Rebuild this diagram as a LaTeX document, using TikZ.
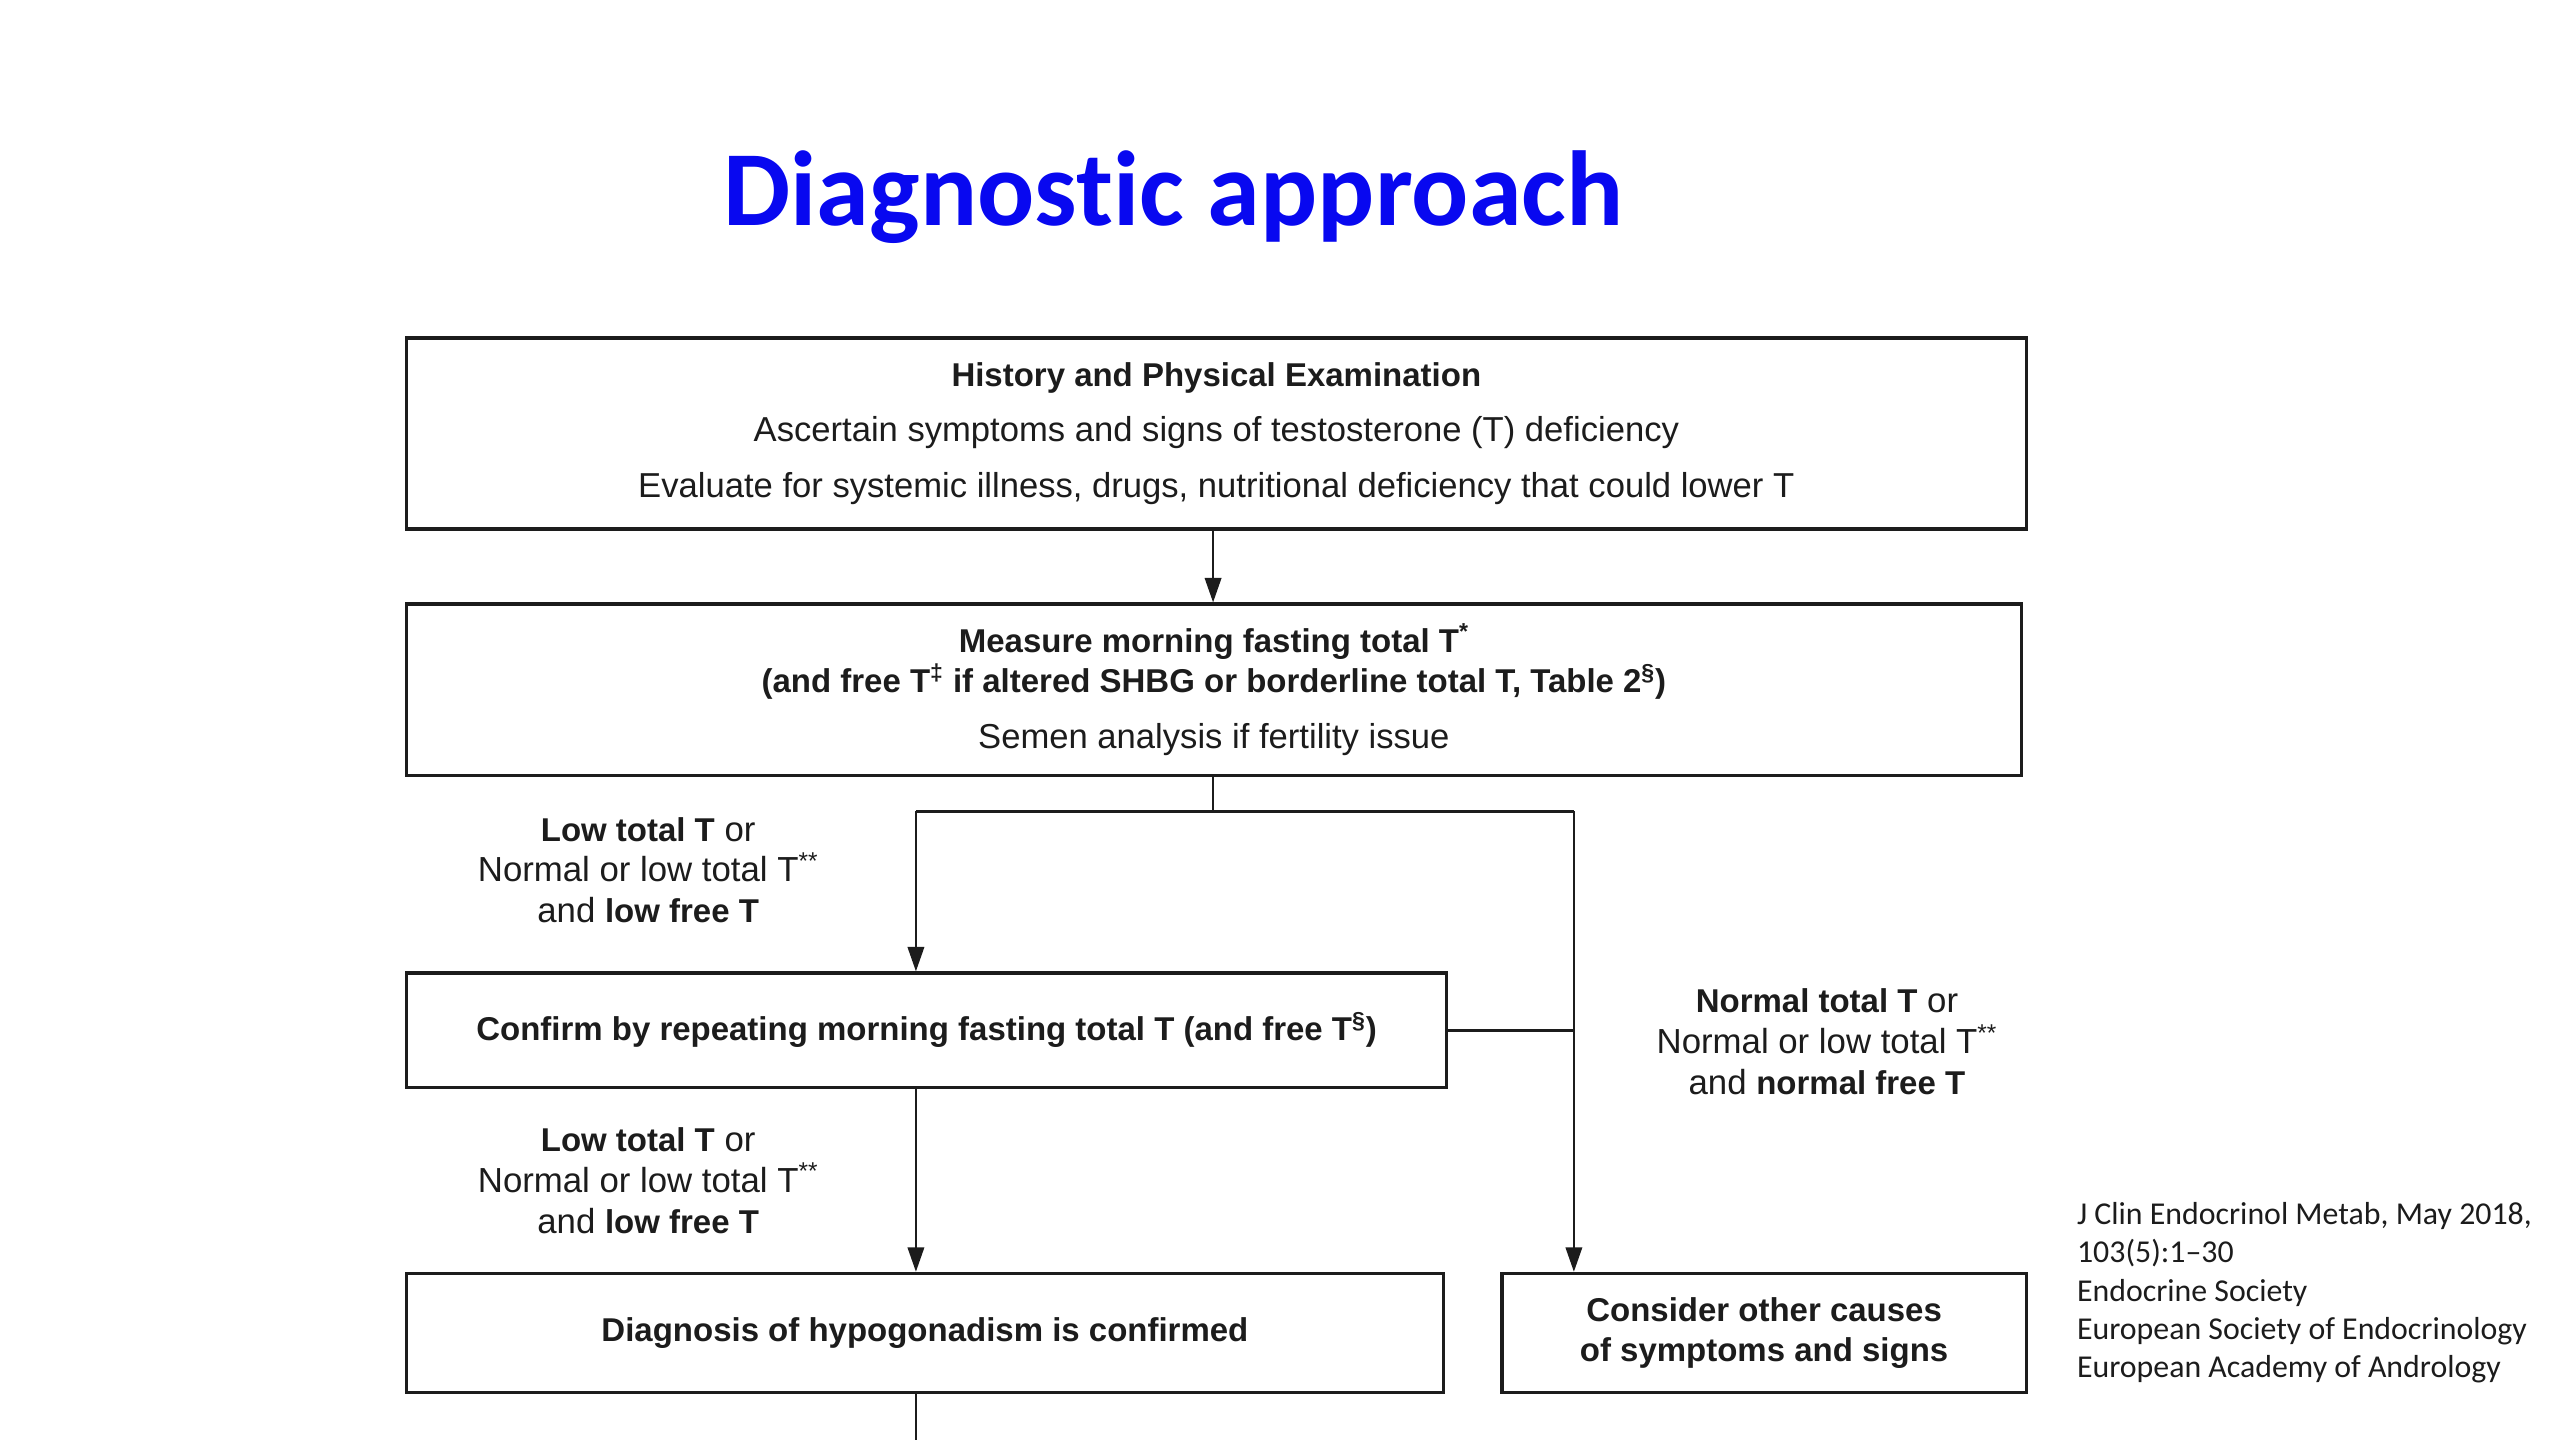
\documentclass[tikz,border=0pt]{standalone}
\usepackage{fontspec}
\setmainfont{Liberation Sans}
\newfontfamily\calibri{Carlito}
\newfontfamily\calibrititle[Ligatures=NoCommon]{Carlito}
\usetikzlibrary{arrows.meta}
\definecolor{titleblue}{RGB}{8,8,240}
\definecolor{ink}{RGB}{28,28,28}
\newcommand\hb[1]{{\fontsize{20.2}{25}\selectfont\bfseries #1}}
\tikzset{
  flowbox/.style={draw=ink, line width=2pt, inner sep=0pt, align=center,
    text=ink, font=\fontsize{21.2}{25}\selectfont},
  conn/.style={draw=ink, line width=1.6pt},
  arr/.style={conn, -{Triangle[length=15pt,width=10pt]}},
  cond/.style={align=center, text=ink, inner sep=0pt, font=\fontsize{21.3}{25}\selectfont},
}
\begin{document}
\begin{tikzpicture}[x=1pt,y=-1pt]
\useasboundingbox[fill=white] (0,0) rectangle (1568,882);

% title
\node[anchor=base west, inner sep=0pt, text=titleblue,
  font=\calibrititle\bfseries\fontsize{65.3}{70}\selectfont] (title) at (443,138) {Diagnostic approach};

% boxes
\node[flowbox, minimum width=992pt, minimum height=117pt] (b1) at (745,265.5)
  {\hb{History and Physical Examination}\\[9pt]
   Ascertain symptoms and signs of testosterone (T) deficiency\\[9pt]
   Evaluate for systemic illness, drugs, nutritional deficiency that could lower T};

\node[flowbox, minimum width=989pt, minimum height=105pt] (b2) at (743.5,422.5)
  {\hb{Measure morning fasting total T\textsuperscript{*}}\\
   \hb{(and free T\textsuperscript{‡} if altered SHBG or borderline total T, Table 2\textsuperscript{§})}\\[9pt]
   Semen analysis if fertility issue};

\node[flowbox, minimum width=637pt, minimum height=70pt] (b3) at (567.5,631)
  {\hb{Confirm by repeating morning fasting total T (and free T\textsuperscript{§})}};

\node[flowbox, minimum width=635pt, minimum height=73pt] (b4) at (566.5,816.5)
  {\hb{Diagnosis of hypogonadism is confirmed}};

\node[flowbox, minimum width=321pt, minimum height=73pt] (b5) at (1080.5,816.5)
  {\hb{Consider other causes}\\\hb{of symptoms and signs}};

% junction coordinates
\coordinate (j0) at (743,497);
\coordinate (jl) at (561,497);
\coordinate (jr) at (964,497);
\coordinate (jm) at (964,631);
\coordinate (bend) at (561,882);

% connectors
\draw[arr] (b1.south -| j0) -- (b2.north -| j0);
\draw[conn] (b2.south -| j0) -- (j0);
\draw[conn] (jl) -- (jr);
\draw[arr] (jl) -- (jl |- b3.north);
\draw[arr] (jr) -- (jr |- b5.north);
\draw[conn] (b3.east) -- (jm);
\draw[arr] (b3.south -| jl) -- (b4.north -| jl);
\draw[conn] (b4.south -| bend) -- (bend);

% condition labels
\node[cond] (c1) at (397,533)
  {\hb{Low total T} or\\Normal or low total T\textsuperscript{**}\\and \hb{low free T}};
\node[cond] (c2) at (397,723)
  {\hb{Low total T} or\\Normal or low total T\textsuperscript{**}\\and \hb{low free T}};
\node[cond] (c3) at (1119,638)
  {\hb{Normal total T} or\\Normal or low total T\textsuperscript{**}\\and \hb{normal free T}};

% citation
\node[anchor=base west, align=left, inner sep=0pt, text=ink,
  font=\calibri\fontsize{19.5}{23.5}\selectfont] (cite) at (1272,844)
  {J Clin Endocrinol Metab, May 2018,\\103(5):1–30\\Endocrine Society\\European Society of Endocrinology\\European Academy of Andrology};
\end{tikzpicture}
\end{document}
